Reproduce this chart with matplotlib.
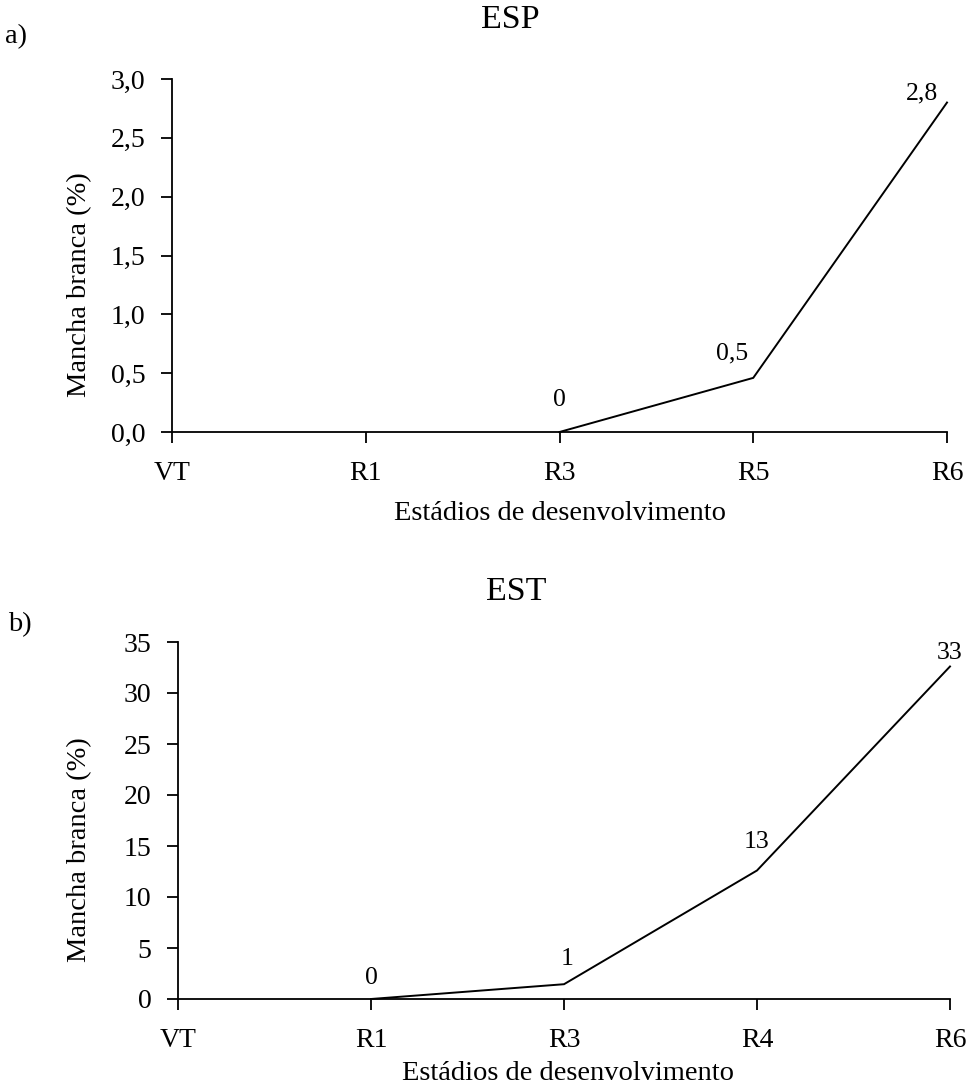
import numpy as np
import matplotlib
matplotlib.use("Agg")
import matplotlib.pyplot as plt
from matplotlib.ticker import FuncFormatter, MultipleLocator

plt.rcParams['font.family'] = ['Liberation Serif', 'DejaVu Serif']

# ---- data ----
stages_esp = ["VT", "R1", "R3", "R5", "R6"]
esp_values = [np.nan, np.nan, 0.0, 0.46, 2.8]

stages_est = ["VT", "R1", "R3", "R4", "R6"]
est_values = [np.nan, 0.0, 1.45, 12.6, 32.6]

# label offsets (points) for each value label: (dx, dy from the point to the baseline)
esp_label_offsets = [None, None, (0, 19), (-15, 13), (-18, 2.5)]
est_label_offsets = [None, (0, 11), (2, 14), (0, 16), (0, 5.5)]

TICK_FS = 20
VALUE_FS = 18.5
LABEL_FS = 20.5
TITLE_FS = 24.5

W, H = 972, 1085
fig = plt.figure(figsize=(W / 100, H / 100), dpi=100)


def px_axes(left, top, right, bottom):
    return fig.add_axes([left / W, 1 - bottom / H, (right - left) / W, (bottom - top) / H])


def style_axes(ax, ymax, ystep, yfmt, stages):
    for side in ("top", "right"):
        ax.spines[side].set_visible(False)
    for side in ("left", "bottom"):
        ax.spines[side].set_linewidth(1.3)
        ax.spines[side].set_color("black")
    ax.set_xlim(0, len(stages) - 1)
    ax.set_ylim(0, ymax)
    ax.set_xticks(range(len(stages)))
    ax.set_xticklabels(stages)
    ax.yaxis.set_major_locator(MultipleLocator(ystep))
    ax.yaxis.set_major_formatter(FuncFormatter(yfmt))
    ax.tick_params(axis="x", direction="out", length=8, width=1.3,
                   labelsize=TICK_FS, pad=13)
    ax.tick_params(axis="y", direction="out", length=8, width=1.3,
                   labelsize=TICK_FS, pad=11)
    ax.set_facecolor("white")


def draw_series(ax, values, offsets, fmt):
    x = np.arange(len(values))
    ax.plot(x, values, color="black", linewidth=1.4, clip_on=False,
            solid_joinstyle="miter")
    for xi, v, off in zip(x, values, offsets):
        if off is None or np.isnan(v):
            continue
        ax.annotate(fmt(v), xy=(xi, v), xytext=off, textcoords="offset points",
                    ha="center", va="baseline", fontsize=VALUE_FS,
                    annotation_clip=False)


def fmt_esp_label(v):
    return "0" if v == 0 else f"{v:.1f}".replace(".", ",")


def fmt_est_label(v):
    return f"{v:.0f}"


# ---- panel a) ESP ----
ax1 = px_axes(172, 79, 947, 432)
style_axes(ax1, 3.0, 0.5, lambda v, p: f"{v:.1f}".replace(".", ","), stages_esp)
draw_series(ax1, esp_values, esp_label_offsets, fmt_esp_label)

fig.text(510 / W, 1 - 20 / H, "ESP", ha="center", va="center", fontsize=TITLE_FS)
fig.text(5 / W, 1 - 37 / H, "a)", ha="left", va="center", fontsize=LABEL_FS)
fig.text(80 / W, 1 - 285 / H, "Mancha branca (%)", rotation=90,
         ha="center", va="center", fontsize=LABEL_FS)
fig.text(560 / W, 1 - 520 / H, "Estádios de desenvolvimento",
         ha="center", va="baseline", fontsize=LABEL_FS)

# ---- panel b) EST ----
ax2 = px_axes(178, 642, 950, 999)
style_axes(ax2, 35, 5, lambda v, p: f"{v:.0f}", stages_est)
draw_series(ax2, est_values, est_label_offsets, fmt_est_label)

fig.text(516 / W, 1 - 592 / H, "EST", ha="center", va="center", fontsize=TITLE_FS)
fig.text(8 / W, 1 - 625 / H, "b)", ha="left", va="center", fontsize=LABEL_FS)
fig.text(80 / W, 1 - 850 / H, "Mancha branca (%)", rotation=90,
         ha="center", va="center", fontsize=LABEL_FS)
fig.text(568 / W, 1 - 1080 / H, "Estádios de desenvolvimento",
         ha="center", va="baseline", fontsize=LABEL_FS)

fig.savefig("out.png", dpi=100, facecolor="white")
